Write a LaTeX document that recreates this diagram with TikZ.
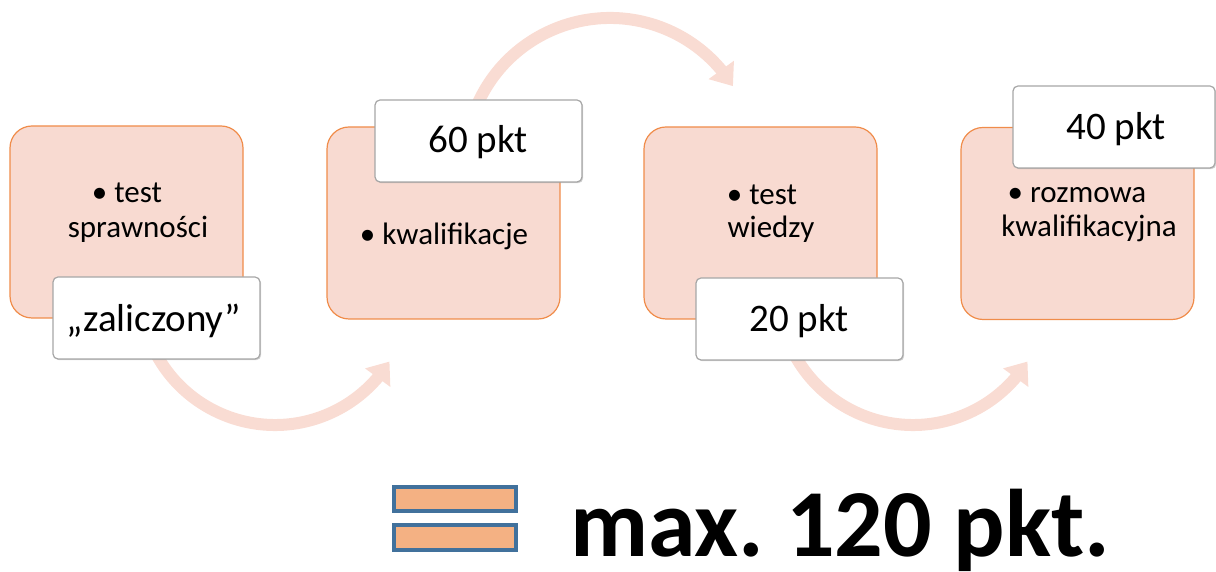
\documentclass[tikz,border=0pt]{standalone}
\usepackage{fontspec}
\setmainfont{Carlito}
\usetikzlibrary{arrows.meta,bending,shadows}
\definecolor{boxfill}{HTML}{F8DAD1}
\definecolor{boxline}{HTML}{F08C4A}
\definecolor{arcc}{HTML}{F9DCD3}
\definecolor{lblline}{HTML}{A6A6A6}
\definecolor{eqfill}{HTML}{F4B183}
\definecolor{eqline}{HTML}{41719C}
\begin{document}
\frenchspacing
\begin{tikzpicture}[x=1pt,y=1pt,
 stagebox/.style={draw=boxline,fill=boxfill,line width=1.2pt,rounded corners=22pt,minimum width=233pt,minimum height=192pt,inner sep=0pt},
 lbl/.style={draw=lblline,fill=white,line width=1.2pt,rounded corners=5pt,minimum width=207pt,minimum height=82pt,inner sep=0pt,drop shadow={shadow xshift=1.2pt,shadow yshift=-1.2pt,opacity=0.35}},
 boxtext/.style={anchor=base,inner sep=0pt,font=\fontsize{31}{35}\selectfont},
 lbltext/.style={anchor=base,inner sep=0pt,font=\fontsize{39}{44}\selectfont},
 flow/.style={draw=arcc,line width=12pt,-{Triangle[width=30pt,length=20pt]}},
 eqbar/.style={draw=eqline,fill=eqfill,line width=4pt,inner sep=0pt,minimum width=122pt}]

\useasboundingbox (0,0) rectangle (1216,572);

% curved flow arrows (behind everything)
\coordinate (a1s) at (152.65,224.95);
\coordinate (a2s) at (475.56,463.32);
\coordinate (a3s) at (790.65,224.95);
\draw[flow] (a1s) arc[start angle=205,end angle=328,radius=135pt];
\draw[flow] (a2s) arc[start angle=158,end angle=32,radius=145pt];
\draw[flow] (a3s) arc[start angle=205,end angle=328,radius=135pt];

% stage boxes
\node[stagebox] (b1) at (126.5,350) {};
\node[stagebox] (b2) at (443.5,349) {};
\node[stagebox] (b3) at (760.5,349) {};
\node[stagebox] (b4) at (1077.5,348.5) {};

% box texts
\node[boxtext] (t1a) at (127,369) {• test};
\node[boxtext] (t1b) at (138,334) {sprawności};
\node[boxtext] (t2a) at (444,327) {• kwalifikacje};
\node[boxtext] (t3a) at (762,367) {• test};
\node[boxtext] (t3b) at (771,334) {wiedzy};
\node[boxtext] (t4a) at (1077,369) {• rozmowa};
\node[boxtext] (t4b) at (1089,335) {kwalifikacyjna};

% white labels
\node[lbl] (l1) at (156.5,254) {};
\node[lbl] (l2) at (478.5,431) {};
\node[lbl] (l3) at (799.5,253) {};
\node[lbl,minimum width=202pt] (l4) at (1114,445) {};
\node[lbltext] (m1) at (154,240) {„zaliczony”};
\node[lbltext] (m2) at (478,419) {60 pkt};
\node[lbltext] (m3) at (799,240) {20 pkt};
\node[lbltext] (m4) at (1116,432) {40 pkt};

% equals sign and total
\node[eqbar,minimum height=24pt] (eq1) at (455,73) {};
\node[eqbar,minimum height=25pt] (eq2) at (455,34.5) {};
\node[anchor=base west,inner sep=0pt,font=\fontsize{96}{100}\selectfont\bfseries] (total) at (570,15) {max. 120 pkt.};
\end{tikzpicture}
\end{document}
